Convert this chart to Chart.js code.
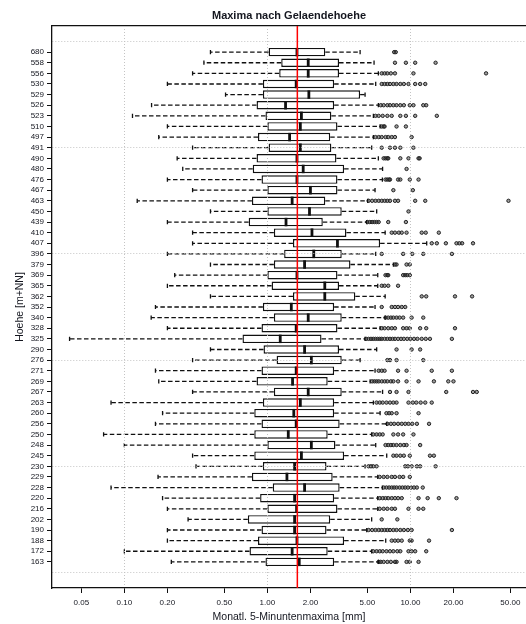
<!DOCTYPE html>
<html>
<head>
<meta charset="utf-8">
<title>Maxima nach Gelaendehoehe</title>
<script src="https://cdn.jsdelivr.net/npm/chart.js@4.4.0/dist/chart.umd.min.js"></script>
<style>
    html, body { margin: 0; padding: 0; background: #fff; }
    #wrap { width: 526px; height: 624px; }
</style>
</head>
<body>
<div id="wrap"><canvas id="boxChart" width="526" height="624"></canvas></div>
<script>
// Gelaendehoehe [m+NN], top to bottom as in the plot
const heights = [680, 558, 556, 530, 529, 526, 523, 510, 497, 491,
                 490, 480, 476, 467, 463, 450, 439, 410, 407, 396,
                 379, 369, 365, 362, 352, 340, 328, 325, 290, 276,
                 271, 269, 267, 263, 260, 256, 250, 248, 245, 230,
                 229, 228, 220, 216, 202, 190, 188, 172, 163];

// Box statistics [mm]
const lowWhisker = [0.40, 0.36, 0.30, 0.20, 0.51, 0.155, 0.114, 0.20, 0.174, 0.30,
                    0.234, 0.256, 0.20, 0.30, 0.123, 0.40, 0.20, 0.30, 0.30, 0.20,
                    0.40, 0.225, 0.20, 0.40, 0.165, 0.154, 0.20, 0.0414, 0.40, 0.30,
                    0.165, 0.174, 0.30, 0.0807, 0.185, 0.165, 0.0716, 0.10, 0.30, 0.317,
                    0.172, 0.0807, 0.185, 0.20, 0.279, 0.20, 0.20, 0.10, 0.213];
const lowerQuartile = [1.02, 1.25, 1.21, 0.93, 0.93, 0.84, 0.97, 1.00, 0.86, 1.02,
                       0.84, 0.79, 0.91, 1.00, 0.78, 1.00, 0.74, 1.11, 1.51, 1.31,
                       1.11, 1.00, 1.07, 1.51, 0.93, 1.11, 0.91, 0.67, 0.94, 1.16,
                       0.91, 0.84, 1.11, 0.93, 0.81, 0.91, 0.81, 1.00, 0.81, 0.93,
                       0.78, 1.09, 0.89, 1.00, 0.73, 0.91, 0.86, 0.75, 0.97];
const medians = [1.61, 1.93, 1.93, 1.59, 1.95, 1.34, 1.73, 1.70, 1.43, 1.70,
                 1.61, 1.78, 1.61, 2.00, 1.49, 1.97, 1.35, 2.05, 3.09, 2.11,
                 1.82, 1.61, 2.52, 2.52, 1.47, 1.93, 1.59, 1.23, 1.82, 2.03,
                 1.59, 1.50, 1.93, 1.70, 1.53, 1.59, 1.40, 2.03, 1.73, 1.55,
                 1.37, 1.82, 1.55, 1.60, 1.55, 1.55, 1.61, 1.49, 1.67];
const upperQuartile = [2.54, 3.17, 3.17, 2.93, 4.45, 2.93, 2.80, 3.09, 2.75, 2.80,
                       3.04, 3.44, 3.09, 3.09, 2.54, 3.31, 2.44, 3.57, 6.14, 3.31,
                       3.81, 3.09, 3.17, 4.12, 2.93, 3.31, 3.09, 2.39, 3.17, 3.31,
                       2.93, 2.64, 3.31, 2.93, 2.93, 3.20, 2.64, 2.99, 3.44, 2.59,
                       2.86, 3.20, 2.93, 3.09, 2.75, 2.59, 3.44, 2.64, 2.93];
const highWhisker = [4.45, 5.57, 5.97, 5.72, 4.82, 5.97, 5.51, 6.14, 5.51, 5.36,
                     5.97, 6.39, 6.37, 5.66, 5.03, 5.81, 4.95, 6.66, 13.0, 5.72,
                     7.61, 5.91, 5.91, 6.66, 5.66, 6.66, 6.14, 4.82, 5.81, 4.45,
                     5.66, 5.23, 6.39, 5.51, 6.14, 6.83, 5.36, 5.72, 6.83, 4.82,
                     5.91, 6.37, 5.91, 5.91, 5.36, 4.95, 6.72, 5.36, 5.97];

// Ausreisser per station
const outliers = [
    [7.7, 7.9],
    [7.8, 9.3, 10.8, 15.0],
    [6.3, 6.6, 6.9, 7.3, 7.8, 10.5, 33.8],
    [6.3, 6.6, 6.9, 7.2, 7.6, 8.0, 8.5, 9.0, 9.7, 10.8, 11.7, 12.7],
    [],
    [6.2, 6.5, 6.9, 7.2, 7.6, 8.0, 8.5, 9.0, 9.9, 10.5, 12.3, 12.9],
    [5.7, 6.0, 6.4, 6.9, 7.4, 8.5, 9.3, 10.8, 15.3],
    [6.3, 6.5, 6.6, 8.0, 9.3],
    [5.7, 6.0, 6.3, 6.7, 7.0, 7.4, 7.8, 10.2],
    [6.3, 7.2, 7.8, 8.5, 10.5],
    [6.5, 6.7, 6.9, 7.0, 8.5, 9.7, 11.4, 11.6],
    [9.4],
    [6.7, 6.9, 7.1, 7.2, 8.2, 8.5, 9.9, 11.4],
    [7.6, 10.4],
    [5.1, 5.4, 5.7, 6.0, 6.3, 6.6, 6.9, 7.2, 7.8, 8.2, 10.8, 12.7, 48.5],
    [9.7],
    [5.0, 5.2, 5.4, 5.6, 5.8, 6.0, 7.0, 9.3],
    [7.4, 7.8, 8.3, 8.7, 9.4, 12.0, 12.8, 15.8],
    [14.1, 15.3, 17.7, 21.0, 22.0, 23.0, 27.4],
    [6.3, 8.9, 10.3, 12.3, 19.5],
    [7.8, 8.0, 9.4, 9.9],
    [6.7, 6.9, 7.0, 8.9, 9.2, 9.5, 9.9],
    [6.3, 6.6, 7.0, 8.2],
    [12.0, 12.9, 20.5, 27.0],
    [6.3, 7.4, 7.8, 8.2, 8.7, 9.2],
    [6.7, 7.0, 7.3, 7.6, 8.0, 8.4, 8.9, 10.2, 12.3],
    [6.3, 6.6, 7.0, 7.4, 7.8, 8.9, 9.4, 9.9, 11.7, 12.9, 20.5],
    [4.9, 5.1, 5.3, 5.5, 5.7, 5.9, 6.1, 6.3, 6.6, 6.9, 7.2, 7.5, 7.8, 8.2, 8.6, 9.0, 9.5, 10.0, 10.6, 11.2, 12.0, 12.8, 13.7, 19.5],
    [8.0, 10.2, 11.7],
    [6.9, 7.2, 8.0, 12.3],
    [6.0, 6.3, 6.6, 8.2, 9.4, 14.1, 19.5],
    [5.4, 5.6, 5.8, 6.0, 6.3, 6.6, 6.9, 7.3, 7.6, 8.2, 9.4, 11.4, 14.6, 18.4, 20.0],
    [7.2, 8.0, 9.7, 17.8, 27.4, 29.1],
    [5.8, 6.1, 6.4, 6.8, 7.2, 7.6, 8.0, 9.7, 10.4, 11.0, 11.8, 12.7, 14.1],
    [6.8, 7.1, 7.4, 8.0, 11.4],
    [6.9, 7.3, 7.7, 8.2, 8.7, 9.2, 9.7, 10.3, 11.1, 13.5],
    [5.5, 5.8, 6.1, 6.4, 7.6, 8.2, 8.9, 10.5],
    [6.7, 7.0, 7.3, 7.6, 8.0, 8.5, 9.0, 9.4, 11.7],
    [7.6, 8.0, 8.5, 9.0, 9.9, 13.7, 14.6],
    [5.1, 5.3, 5.5, 5.8, 9.2, 9.6, 10.2, 11.1, 11.7, 15.0],
    [6.1, 6.5, 6.9, 7.4, 7.8, 8.4, 8.9, 9.9],
    [6.5, 6.8, 7.1, 7.4, 7.7, 8.0, 8.4, 8.8, 9.2, 9.6, 10.1, 10.6, 11.1, 12.2],
    [6.1, 6.4, 6.7, 7.0, 7.4, 7.8, 8.2, 8.7, 11.4, 13.2, 15.8, 21.0],
    [6.1, 6.5, 6.9, 7.4, 7.8, 9.7, 11.4, 12.3],
    [6.3, 8.1],
    [5.1, 5.4, 5.7, 6.0, 6.3, 6.6, 6.9, 7.2, 7.6, 8.0, 8.5, 9.0, 9.6, 10.2, 19.5],
    [7.4, 7.8, 8.2, 8.7, 9.9, 10.2, 13.5],
    [5.5, 5.8, 6.1, 6.4, 6.8, 7.2, 7.6, 8.1, 8.5, 9.7, 10.2, 10.8, 12.9],
    [6.0, 6.2, 6.5, 6.9, 7.3, 7.8, 8.0, 9.4, 9.9, 11.4]
];

// Axis ticks and reference line
const xTickValues = [0.05, 0.1, 0.2, 0.5, 1, 2, 5, 10, 20, 50];
const xGridValues = [0.1, 1, 10];
const yGridStep = 10;
const referenceValue = 1.62;

const TEXT = '#14161f';
const LINE = '#101010';
Chart.defaults.font.family = "'Liberation Sans', Arial, sans-serif";
Chart.defaults.color = TEXT;

const n = heights.length;
const rowPos = i => n - i;          // 680 on top, 163 at the bottom

// Prepare data
const boxData = heights.map((h, i) => ({ y: rowPos(i), x: [lowerQuartile[i], upperQuartile[i]] }));
const outlierData = [];
outliers.forEach((row, i) => row.forEach(v => outlierData.push({ x: v, y: rowPos(i) })));

// keep the plot area where we want it (no label overhang padding)
function fixSize(prop, size) {
    return scale => {
        scale[prop] = size;
        scale.paddingTop = 0;
        scale.paddingBottom = 0;
        scale.paddingLeft = 0;
        scale.paddingRight = 0;
    };
}

/**
 * Whiskers, staples and medians on top of the boxes
 */
const whiskerPlugin = {
    id: 'whiskers',
    afterDatasetsDraw(chart) {
        const ctx = chart.ctx;
        const xs = chart.scales.x;
        const bars = chart.getDatasetMeta(0).data;
        ctx.save();
        ctx.strokeStyle = LINE;
        bars.forEach((bar, i) => {
            const y = bar.y;
            const half = bar.height / 2;
            const lo = xs.getPixelForValue(lowWhisker[i]);
            const q1 = xs.getPixelForValue(lowerQuartile[i]);
            const q3 = xs.getPixelForValue(upperQuartile[i]);
            const hi = xs.getPixelForValue(highWhisker[i]);
            const med = xs.getPixelForValue(medians[i]);

            ctx.lineWidth = 1.3;
            ctx.setLineDash([4.5, 2.5]);
            ctx.beginPath();
            ctx.moveTo(q1, y); ctx.lineTo(lo, y);
            ctx.stroke();
            ctx.beginPath();
            ctx.moveTo(q3, y); ctx.lineTo(hi, y);
            ctx.stroke();

            ctx.setLineDash([]);
            ctx.beginPath();
            ctx.moveTo(lo, y - half / 2); ctx.lineTo(lo, y + half / 2);
            ctx.moveTo(hi, y - half / 2); ctx.lineTo(hi, y + half / 2);
            ctx.stroke();

            ctx.lineWidth = 2.8;
            ctx.beginPath();
            ctx.moveTo(med, y - half); ctx.lineTo(med, y + half);
            ctx.stroke();
        });
        ctx.restore();
    },
    afterDraw(chart) {
        // red reference line
        const ctx = chart.ctx;
        const area = chart.chartArea;
        const x = chart.scales.x.getPixelForValue(referenceValue);
        ctx.save();
        ctx.strokeStyle = '#ff0000';
        ctx.lineWidth = 1.5;
        ctx.beginPath();
        ctx.moveTo(x, area.top);
        ctx.lineTo(x, area.bottom);
        ctx.stroke();
        ctx.restore();
    }
};

const gridColor = '#c4c4c4';

new Chart(document.getElementById('boxChart'), {
    type: 'bar',
    data: {
        datasets: [{
            type: 'bar',
            indexAxis: 'y',
            data: boxData,
            backgroundColor: '#ffffff',
            borderColor: LINE,
            borderWidth: 1.4,
            borderSkipped: false,
            categoryPercentage: 0.8,
            barPercentage: 1.0
        }, {
            type: 'scatter',
            data: outlierData,
            pointStyle: 'circle',
            pointRadius: 1.7,
            borderWidth: 1,
            borderColor: '#222222',
            backgroundColor: 'rgba(40,40,40,0.45)'
        }]
    },
    options: {
        responsive: false,
        animation: false,
        events: [],
        layout: { padding: 0, autoPadding: false },
        plugins: {
            legend: { display: false },
            tooltip: { enabled: false },
            title: { display: false }
        },
        scales: {
            x: {
                type: 'logarithmic',
                position: 'bottom',
                min: 0.0312,
                max: 64.3,
                bounds: 'data',
                offset: false,
                beginAtZero: false,
                afterBuildTicks: scale => { scale.ticks = xTickValues.map(v => ({ value: v })); },
                afterFit: fixSize('height', 36),
                ticks: {
                    autoSkip: false,
                    maxRotation: 0,
                    minRotation: 0,
                    padding: 5,
                    font: { size: 8 },
                    callback: value => Number(value).toFixed(2)
                },
                grid: {
                    z: 1,
                    offset: false,
                    lineWidth: 1,
                    color: ctx => (ctx.tick && xGridValues.includes(ctx.tick.value)) ? gridColor : 'rgba(0,0,0,0)',
                    tickColor: LINE,
                    tickLength: 5
                },
                border: { display: true, color: LINE, width: 1.3, dash: [1, 2], z: 2 },
                title: {
                    display: true,
                    text: 'Monatl. 5-Minuntenmaxima [mm]',
                    font: { size: 10.5 },
                    padding: { top: 0, bottom: 1 }
                }
            },
            x2: {
                type: 'logarithmic',
                position: 'top',
                min: 0.0312,
                max: 64.3,
                bounds: 'data',
                offset: false,
                afterFit: fixSize('height', 26),
                ticks: { display: false },
                grid: { display: false, offset: false },
                border: { display: true, color: LINE, width: 1.3 },
                title: {
                    display: true,
                    text: 'Maxima nach Gelaendehoehe',
                    font: { size: 11, weight: 'bold' },
                    padding: { top: 9, bottom: 0 }
                }
            },
            y: {
                type: 'linear',
                position: 'left',
                min: -1.46,
                max: n + 2.46,
                bounds: 'data',
                offset: false,
                afterBuildTicks: scale => {
                    const ticks = [];
                    for (let p = 0; p <= n + 1; p++) ticks.push({ value: p });
                    scale.ticks = ticks;
                },
                afterFit: fixSize('width', 52),
                ticks: {
                    autoSkip: false,
                    padding: 3,
                    font: { size: 8 },
                    callback: value => (value >= 1 && value <= n) ? String(heights[n - value]) : ''
                },
                grid: {
                    z: 1,
                    offset: false,
                    lineWidth: 1,
                    color: ctx => (ctx.tick && ctx.tick.value % yGridStep === 0) ? gridColor : 'rgba(0,0,0,0)',
                    tickColor: ctx => (ctx.tick && ctx.tick.value >= 1 && ctx.tick.value <= n) ? LINE : 'rgba(0,0,0,0)',
                    tickLength: 5
                },
                border: { display: true, color: LINE, width: 1.3, dash: [1, 2], z: 2 },
                title: {
                    display: true,
                    text: 'Hoehe [m+NN]',
                    font: { size: 10.5 },
                    padding: { top: 14, bottom: 0 }
                }
            }
        }
    },
    plugins: [whiskerPlugin]
});
</script>
</body>
</html>
